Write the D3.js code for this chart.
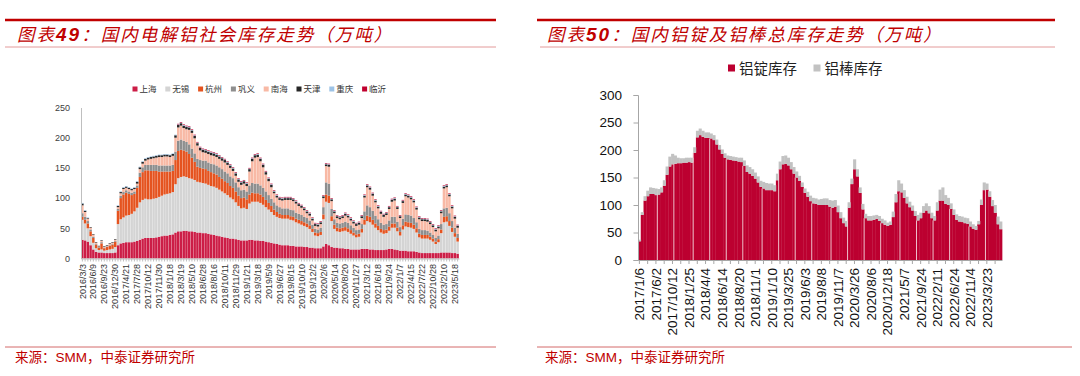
<!DOCTYPE html>
<html lang="zh">
<head>
<meta charset="utf-8">
<script src="https://cdn.jsdelivr.net/npm/d3@7/dist/d3.min.js"></script>
<style>
html,body{margin:0;padding:0;background:#fff;}
svg{display:block;}
</style>
</head>
<body>
<svg id="chart" width="1080" height="376"></svg>
<script>
// ---------------- LEFT CHART DATA (万吨) ----------------
const leftTickLabels = ["2016/3/3","2016/6/9","2016/9/23","2016/12/30","2017/4/21","2017/7/28","2017/10/12","2017/11/30","2018/1/18","2018/3/19","2018/5/10","2018/6/28","2018/8/16","2018/10/11","2018/11/29","2019/1/21","2019/3/18","2019/5/9","2019/6/27","2019/8/15","2019/10/10","2019/12/2","2020/2/6","2020/5/14","2020/8/20","2020/11/27","2021/3/12","2021/6/18","2021/9/24","2022/1/7","2022/4/15","2022/7/22","2022/10/28","2023/2/10","2023/5/18"];
const leftYTicks = [0,50,100,150,200,250];
const leftSeriesNames = ["上海","无锡","杭州","巩义","南海","天津","重庆","临沂"];
const shanghai = [31,30,28,22,15,11,10,10,9,9, 9,9,10,22,25,26,27,27,27,28, 29,31,33,34,34,34,34,35,36,37, 38,38,39,40,43,45,45,46,46,45, 45,44,43,43,42,42,41,40,39,38, 37,36,35,34,33,33,32,31,30,30, 30,31,31,30,30,29,29,28,27,26, 25,24,23,22,22,22,21,21,20,20, 20,19,19,18,18,17,17,17,20,24, 22,19,18,18,17,17,16,16,15,15, 15,15,16,16,16,15,15,14,14,14, 14,15,16,16,15,14,13,13,13,12, 12,12,11,10,9,9,9,9,9,9, 9,10,10,10,10,9,9,8];
const wuxi = [33,28,22,15,11,6,4,5,4,5, 6,7,9,35,40,42,44,45,47,50, 55,62,64,65,64,64,65,65,66,67, 68,69,69,70,80,88,90,90,89,88, 87,86,84,83,83,82,81,80,80,79, 77,75,73,71,68,65,61,56,53,54, 52,60,63,64,64,63,60,57,54,51, 47,45,44,44,44,44,43,42,40,38, 36,35,33,31,26,21,20,22,45,70, 70,43,31,27,27,28,30,28,26,23, 20,21,27,40,46,45,41,37,33,29, 27,27,30,35,36,31,25,35,40,40, 39,37,32,25,24,24,24,22,19,15, 18,32,50,51,44,35,27,20];
const hangzhou = [5,6,8,8,8,6,4,10,4,5, 6,7,9,22,35,38,38,35,31,29, 33,42,46,47,48,47,46,45,42,40, 38,37,36,35,40,45,45,43,42,40, 35,30,25,24,24,24,23,23,22,22, 21,21,20,20,19,19,18,17,17,17, 16,15,15,14,14,14,13,12,11,10, 9,8,7,6,6,6,6,6,6,6, 6,6,6,6,5,5,5,5,8,12, 12,8,7,6,6,6,6,6,6,5, 5,5,6,8,9,9,8,7,7,6, 6,6,7,7,7,6,6,7,8,8, 8,7,7,6,6,6,6,5,5,4, 5,6,9,9,8,7,6,6];
const gongyi = [6,5,4,3,2,1,1,2,1,1, 1,1,1,3,4,4,4,4,4,4, 4,7,8,9,9,10,10,10,10,10, 10,10,10,10,14,17,17,16,16,16, 15,14,13,13,13,14,14,14,15,15, 16,16,16,16,16,16,15,14,13,13, 13,15,16,16,16,15,15,14,13,12, 12,11,11,11,11,11,11,11,10,10, 10,9,9,8,7,6,6,7,12,20, 20,12,9,8,8,8,9,9,8,8, 7,7,8,14,17,16,15,13,11,10, 9,9,10,11,11,10,8,11,12,12, 12,11,10,8,8,8,7,7,6,6, 6,9,14,14,13,11,9,7];
const nanhai = [13,8,4,3,3,2,1,2,1,1, 2,2,2,3,4,5,4,4,4,4, 3,6,6,7,9,10,11,12,14,14, 15,15,14,15,23,22,23,21,21,24, 26,25,22,16,14,13,14,14,14,14, 14,14,15,14,14,12,11,9,9,10, 9,23,36,43,44,40,34,28,23,19, 15,13,12,13,14,14,16,15,15,13, 12,11,8,8,7,5,5,6,15,27, 28,13,10,8,7,8,10,9,8,7, 7,8,10,23,30,29,25,22,18,15, 13,15,19,25,27,21,15,26,30,29, 27,26,21,16,15,15,15,14,13,11, 12,18,33,34,28,21,15,10];
const tianjin = [3,2,1,1,1,1,1,1,1,1, 1,1,1,2,2,2,2,2,2,2, 3,3,3,3,3,3,3,3,3,3, 3,3,3,3,4,4,4,4,4,4, 4,4,4,4,4,4,4,4,4,4, 4,4,4,4,4,4,4,4,4,4, 4,4,4,4,4,4,4,4,4,4, 3,3,3,3,3,3,3,3,3,3, 3,3,3,3,3,3,3,3,3,3, 3,3,3,3,3,3,3,3,3,3, 3,3,3,3,3,3,3,3,3,3, 3,3,3,3,3,3,3,3,3,3, 3,3,3,3,3,3,3,3,3,3, 3,3,3,3,3,3,3,3];
const chongqing = [1,1,1,0,0,0,0,0,0,0, 0,0,0,1,1,1,1,1,1,1, 1,1,1,1,1,1,1,1,1,1, 1,1,1,1,1,1,1,1,1,1, 1,1,1,1,1,1,1,1,1,1, 1,1,1,1,1,1,1,1,1,1, 1,1,1,1,1,1,1,1,1,1, 1,1,1,1,1,1,1,1,1,1, 1,1,1,1,1,1,1,1,1,1, 1,1,1,1,1,1,1,1,1,1, 1,1,1,1,1,1,1,1,1,1, 1,1,1,1,1,1,1,1,1,1, 1,1,1,1,1,1,1,1,1,1, 1,1,1,1,1,1,1,1];
const linyi = [0,0,0,0,0,0,0,0,0,0, 0,0,0,0,0,0,0,0,0,0, 0,0,0,0,0,0,0,0,0,0, 0,0,0,0,0,1,1,1,1,1, 1,1,1,1,1,1,1,1,1,1, 1,1,1,1,1,1,1,1,1,1, 1,1,1,1,1,1,1,1,1,1, 1,1,1,1,1,1,1,1,1,1, 1,1,1,1,1,1,1,1,1,1, 1,1,1,1,1,1,1,1,1,1, 1,1,1,1,1,1,1,1,1,1, 1,1,1,1,1,1,1,1,1,1, 1,1,1,1,1,1,1,1,1,1, 1,1,1,1,1,1,1,1];

// ---------------- RIGHT CHART DATA (万吨) ----------------
const rightTickLabels = ["2017/1/6","2017/6/2","2017/10/12","2018/1/25","2018/4/4","2018/6/14","2018/8/20","2018/11/1","2019/1/10","2019/3/25","2019/6/3","2019/8/8","2019/11/7","2020/3/26","2020/8/6","2020/12/18","2021/5/7","2021/9/24","2022/2/11","2022/6/24","2022/11/4","2023/3/23"];
const rightYTicks = [0,50,100,150,200,250,300];
const rightSeriesNames = ["铝锭库存","铝棒库存"];
const ingotStock = [34,82,108,116,120,120,118,119,123,135, 155,170,174,175,176,176,177,177,178,177, 195,223,227,224,222,222,221,218,210,201, 193,186,183,182,181,180,179,178,171,160, 157,153,148,141,133,130,127,127,127,125, 145,165,174,175,172,165,157,150,144,133, 122,115,107,103,102,100,100,100,100,97, 95,97,87,76,67,61,95,138,165,152, 122,92,76,72,72,73,75,71,67,64, 62,64,78,105,125,123,113,103,96,90, 80,72,76,86,90,85,76,72,90,108, 108,102,100,93,82,73,70,69,67,66, 61,57,55,65,100,127,128,115,98,86, 65,56];
const billetStock = [3,5,8,10,12,11,12,10,9,10, 15,18,19,15,10,9,8,9,8,9, 10,12,12,11,10,10,9,9,9,8, 8,8,7,7,7,7,7,8,10,12, 12,12,11,11,11,12,13,12,12,11, 12,14,15,15,14,13,12,11,9,8, 8,9,10,10,10,10,11,12,12,12, 13,12,12,11,10,10,10,10,18,13, 10,10,8,8,8,8,7,9,8,8, 6,6,10,15,20,16,14,12,10,9, 9,10,10,12,13,13,10,8,15,20, 24,16,13,10,10,10,10,10,10,10, 9,8,7,6,10,14,11,10,11,14, 14,14];

// ---------------- STYLE ----------------
const leftColors = ["#cc1d46","#d4d4d4","#e5531f","#8e8e8e","#f8b9a5","#262626","#9dc3e6","#c0002f"];
const rightColors = ["#bc0030","#c2c2c2"];
const RED = "#c00000";
const NUM_FONT = "'Liberation Sans', Arial, sans-serif";
const CJK_FONT = "'Noto Sans CJK SC', sans-serif";

const svg = d3.select("#chart");

// ---------------- HEADERS / FOOTERS ----------------
function header(x0, x1, x0b, tx, num, rest) {
  svg.append("line").attr("x1", x0).attr("x2", x1).attr("y1", 20).attr("y2", 20)
    .attr("stroke", RED).attr("stroke-width", 2.6);
  svg.append("line").attr("x1", x0b).attr("x2", x1).attr("y1", 47).attr("y2", 47)
    .attr("stroke", "#e39a9a").attr("stroke-width", 1);
  const t = svg.append("text").attr("x", tx).attr("y", 41).attr("fill", RED)
    .attr("font-size", 17.5).attr("font-style", "italic").attr("font-family", CJK_FONT)
    .attr("letter-spacing", 2);
  t.append("tspan").text("图表");
  t.append("tspan").attr("font-weight", "bold").attr("font-family", NUM_FONT).attr("font-size", 19).text(num);
  t.append("tspan").text(rest);
}
function footer(x0, x1, tx) {
  svg.append("line").attr("x1", x0).attr("x2", x1).attr("y1", 347).attr("y2", 347)
    .attr("stroke", "#d46a6a").attr("stroke-width", 1);
  const t = svg.append("text").attr("x", tx).attr("y", 362).attr("fill", RED)
    .attr("font-size", 13.5).attr("font-family", CJK_FONT);
  t.append("tspan").text("来源：");
  t.append("tspan").attr("font-family", NUM_FONT).text("SMM");
  t.append("tspan").text("，中泰证券研究所");
}
header(5, 496, 5, 17, "49", "：国内电解铝社会库存走势（万吨）");
header(537, 1055, 540, 547, "50", "：国内铝锭及铝棒总库存走势（万吨）");
footer(5, 496, 15);
footer(537, 1072, 545);

// ---------------- LEFT CHART ----------------
const leftSeries = [shanghai, wuxi, hangzhou, gongyi, nanhai, tianjin, chongqing, linyi];
const nL = shanghai.length;
const leftRows = d3.range(nL).map(i => {
  const r = {};
  leftSeriesNames.forEach((name, k) => { r[name] = leftSeries[k][i]; });
  return r;
});
const stackL = d3.stack().keys(leftSeriesNames)(leftRows);
const xL = d3.scaleBand().domain(d3.range(nL)).range([81, 459]).paddingInner(0.1).paddingOuter(0.05);
const yL = d3.scaleLinear().domain([0, 250]).range([258.5, 107.5]);

svg.append("g").selectAll("g").data(stackL).join("g")
  .attr("fill", (d, k) => leftColors[k])
  .selectAll("rect").data(d => d).join("rect")
  .attr("x", (d, i) => xL(i)).attr("width", xL.bandwidth())
  .attr("y", d => yL(d[1])).attr("height", d => Math.max(0, yL(d[0]) - yL(d[1])));

const ayL = svg.append("g").attr("transform", "translate(81,0)")
  .call(d3.axisLeft(yL).tickValues(leftYTicks).tickSize(0).tickPadding(11));
ayL.select(".domain").attr("stroke", "#bfbfbf");
ayL.selectAll("text").attr("font-size", 9).attr("fill", "#404040").attr("font-family", NUM_FONT);

const axL = svg.append("g").attr("transform", `translate(0,${yL(0)})`)
  .call(d3.axisBottom(xL).tickValues(d3.range(nL)).tickSize(3).tickSizeOuter(0)
    .tickFormat(i => i % 4 === 0 ? leftTickLabels[i / 4] : ""));
axL.select(".domain").attr("stroke", "#bfbfbf");
axL.selectAll(".tick line").attr("stroke", "#bfbfbf");
axL.selectAll("text").attr("transform", "rotate(-90)").attr("text-anchor", "end")
  .attr("x", -5.5).attr("y", 0).attr("dy", "0.35em")
  .attr("font-size", 9).attr("fill", "#333").attr("font-family", NUM_FONT);

// left legend
const legL = svg.append("g");
leftSeriesNames.forEach((name, k) => {
  const lx = 132.5 + k * 32.8;
  legL.append("rect").attr("x", lx).attr("y", 86.5).attr("width", 5).attr("height", 5).attr("fill", leftColors[k]);
  legL.append("text").attr("x", lx + 7).attr("y", 92.3).attr("font-size", 8.5)
    .attr("font-family", CJK_FONT).attr("fill", "#333").text(name);
});

// ---------------- RIGHT CHART ----------------
const nR = ingotStock.length;
const rightRows = d3.range(nR).map(i => ({[rightSeriesNames[0]]: ingotStock[i], [rightSeriesNames[1]]: billetStock[i]}));
const stackR = d3.stack().keys(rightSeriesNames)(rightRows);
const xR = d3.scaleBand().domain(d3.range(nR)).range([638, 1002]).padding(0);
const yR = d3.scaleLinear().domain([0, 300]).range([260, 95]);

svg.append("g").selectAll("g").data(stackR).join("g")
  .attr("fill", (d, k) => rightColors[k])
  .selectAll("rect").data(d => d).join("rect")
  .attr("x", (d, i) => xR(i)).attr("width", xR.bandwidth() + 0.35)
  .attr("y", d => yR(d[1])).attr("height", d => Math.max(0, yR(d[0]) - yR(d[1])));

// thin light gaps visible inside the ingot columns
const gapLines = svg.append("g");
d3.range(20).forEach(m => {
  const idx = Math.round(7 + m * 119 / 19);
  gapLines.append("line").attr("x1", xR(idx)).attr("x2", xR(idx))
    .attr("y1", yR(0)).attr("y2", yR(ingotStock[idx]))
    .attr("stroke", "#f3d3da").attr("stroke-width", 0.9);
});

const ayR = svg.append("g").attr("transform", "translate(638,0)")
  .call(d3.axisLeft(yR).tickValues(rightYTicks).tickSize(4.5).tickPadding(11.5));
ayR.select(".domain").attr("stroke", "#a6a6a6");
ayR.selectAll(".tick line").attr("stroke", "#a6a6a6");
ayR.selectAll("text").attr("font-size", 13.5).attr("fill", "#111").attr("font-family", NUM_FONT);

const axR = svg.append("g").attr("transform", `translate(0,${yR(0)})`)
  .call(d3.axisBottom(xR).tickValues(d3.range(0, nR, 3)).tickSize(4).tickSizeOuter(0)
    .tickFormat(i => i % 6 === 0 ? rightTickLabels[i / 6] : ""));
axR.select(".domain").attr("stroke", "#a6a6a6");
axR.selectAll(".tick line").attr("stroke", "#a6a6a6");
axR.selectAll("text").attr("transform", "rotate(-90)").attr("text-anchor", "end")
  .attr("x", -8).attr("y", 0).attr("dy", "0.36em")
  .attr("font-size", 13.5).attr("fill", "#111").attr("font-family", NUM_FONT);

// right legend
const legR = svg.append("g");
rightSeriesNames.forEach((name, k) => {
  const lx = 728 + k * 85.5;
  legR.append("rect").attr("x", lx).attr("y", 64.5).attr("width", 7).attr("height", 7).attr("fill", rightColors[k]);
  legR.append("text").attr("x", lx + 11).attr("y", 73.5).attr("font-size", 14.5)
    .attr("font-family", CJK_FONT).attr("fill", "#222").text(name);
});
</script>
</body>
</html>
